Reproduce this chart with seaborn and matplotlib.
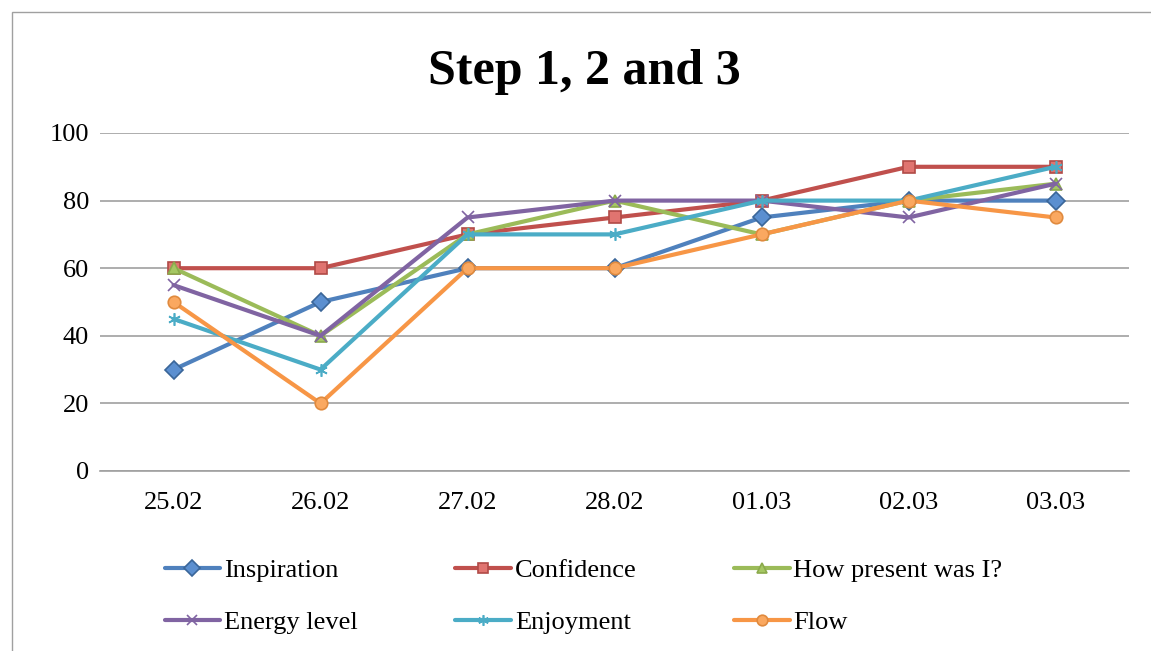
import pandas as pd
import seaborn as sns
import matplotlib.pyplot as plt
from matplotlib.patches import Rectangle

dates = ["25.02", "26.02", "27.02", "28.02", "01.03", "02.03", "03.03"]
inspiration = [30, 50, 60, 60, 75, 80, 80]
confidence = [60, 60, 70, 75, 80, 90, 90]
how_present = [60, 40, 70, 80, 70, 80, 85]
energy_level = [55, 40, 75, 80, 80, 75, 85]
enjoyment = [45, 30, 70, 70, 80, 80, 90]
flow = [50, 20, 60, 60, 70, 80, 75]

series = {
    "Inspiration": inspiration,
    "Confidence": confidence,
    "How present was I?": how_present,
    "Energy level": energy_level,
    "Enjoyment": enjoyment,
    "Flow": flow,
}
colors = ["#4F81BD", "#C0504D", "#9BBB59", "#8064A2", "#4BACC6", "#F79646"]
edge_colors = ["#3A6699", "#B04A47", "#8BAA4C", "#8064A2", "#4BACC6", "#E08A3E"]
fill_colors = ["#5B8FD0", "#E07470", "#A5C763", "#8064A2", "#4BACC6", "#FAA860"]
markers = ["D", "s", "^", "x", (6, 2, 0), "o"]

sns.set_style("white")
plt.rcParams['font.family'] = ['Liberation Serif', 'DejaVu Serif']
plt.rcParams['text.color'] = 'black'
plt.rcParams['xtick.color'] = 'black'
plt.rcParams['ytick.color'] = 'black'

fig = plt.figure(figsize=(11.51, 6.51), dpi=100)
ax = fig.add_axes([0.0869, 0.2765, 0.894, 0.5192])

for k, (name, vals) in enumerate(series.items()):
    d = pd.DataFrame({"pos": range(len(dates)), "score": vals})
    sns.lineplot(data=d, x="pos", y="score", color=colors[k], marker=markers[k],
                 markersize=9, markeredgewidth=1.2, markeredgecolor=edge_colors[k],
                 markerfacecolor=fill_colors[k],
                 linewidth=3, label=name, ax=ax, sort=False)

ax.set_xlim(-0.5, 6.5)
ax.set_ylim(0, 100)
ax.set_yticks(range(0, 101, 20))
ax.set_xticks(range(len(dates)))
ax.set_xticklabels(dates)
ax.tick_params(axis="y", labelsize=19, length=0, pad=8)
ax.tick_params(axis="x", labelsize=19, length=0, pad=15)
ax.yaxis.grid(True, color="#A0A0A0", linewidth=1.2)
ax.set_axisbelow(True)
for s in ["left", "right", "top"]:
    ax.spines[s].set_visible(False)
ax.spines["bottom"].set_color("#A0A0A0")
ax.spines["bottom"].set_linewidth(1.2)
ax.set_xlabel("")
ax.set_ylabel("")

handles, labels = ax.get_legend_handles_labels()
order = [0, 3, 1, 4, 2, 5]
ax.legend([handles[i] for i in order], [labels[i] for i in order], ncol=3,
          loc="center left", bbox_to_anchor=(0.143, 0.084),
          bbox_transform=fig.transFigure, frameon=False, fontsize=19,
          handlelength=2.1, handletextpad=0.15, columnspacing=3.7,
          labelspacing=1.1, borderpad=0, borderaxespad=0, markerscale=0.85)

fig.text(0.508, 0.889, "Step 1, 2 and 3", ha="center", va="center",
         fontsize=36, fontweight="bold", color="black")

fig.patches.append(Rectangle((12 / 1151, -0.05), 1.0, 1 - 12 / 651 + 0.05,
                             transform=fig.transFigure, fill=False,
                             edgecolor="#A0A0A0", linewidth=1))

plt.savefig("out.png", dpi=100)
